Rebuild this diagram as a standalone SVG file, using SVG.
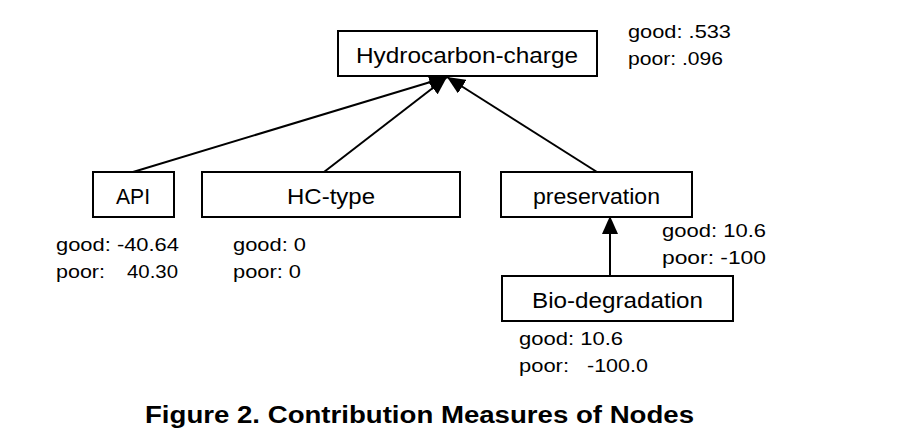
<svg xmlns="http://www.w3.org/2000/svg" width="913" height="444" viewBox="0 0 913 444">
<style>
.box{fill:#fff;stroke:#000;stroke-width:2}
.nt{font-family:"Liberation Sans",Arial,sans-serif;font-size:22px;fill:#000}
.lb{font-family:"Liberation Sans",Arial,sans-serif;font-size:18.5px;fill:#000}
.edge{stroke:#000;stroke-width:2;fill:none}
.title{font-family:"Liberation Sans",Arial,sans-serif;font-size:23px;font-weight:bold;fill:#000}
</style>
<defs>
<marker id="arr" markerUnits="userSpaceOnUse" markerWidth="18" markerHeight="16" refX="18" refY="8" orient="auto" viewBox="0 0 18 16">
<path d="M0,0 L18,8 L0,16 z" fill="#000"/>
</marker>
</defs>
<rect width="913" height="444" fill="#fff"/>
<g id="connectors">
<line class="edge" x1="133" y1="172" x2="447" y2="77" marker-end="url(#arr)"/>
<line class="edge" x1="324" y1="172" x2="447" y2="77" marker-end="url(#arr)"/>
<line class="edge" x1="597" y1="172" x2="447" y2="77" marker-end="url(#arr)"/>
<line class="edge" x1="610" y1="276" x2="610" y2="216" marker-end="url(#arr)"/>
</g>
<g id="hydrocarbon-charge">
<rect class="box" x="338" y="31" width="259" height="45"/>
<text class="nt" x="356" y="63" textLength="222" lengthAdjust="spacingAndGlyphs">Hydrocarbon-charge</text>
<text class="lb" x="628" y="38" textLength="103" lengthAdjust="spacingAndGlyphs">good: .533</text>
<text class="lb" x="628" y="65" textLength="95" lengthAdjust="spacingAndGlyphs">poor: .096</text>
</g>
<g id="api">
<rect class="box" x="93" y="172" width="81" height="45"/>
<text class="nt" x="116" y="204" textLength="34" lengthAdjust="spacingAndGlyphs">API</text>
<text class="lb" x="56" y="251" textLength="123" lengthAdjust="spacingAndGlyphs">good: -40.64</text>
<text class="lb" y="278"><tspan x="56" textLength="49" lengthAdjust="spacingAndGlyphs">poor:</tspan><tspan x="127" textLength="51" lengthAdjust="spacingAndGlyphs">40.30</tspan></text>
</g>
<g id="hc-type">
<rect class="box" x="202" y="172" width="258" height="45"/>
<text class="nt" x="287" y="204" textLength="88" lengthAdjust="spacingAndGlyphs">HC-type</text>
<text class="lb" x="233" y="251" textLength="73" lengthAdjust="spacingAndGlyphs">good: 0</text>
<text class="lb" x="233" y="278" textLength="68" lengthAdjust="spacingAndGlyphs">poor: 0</text>
</g>
<g id="preservation">
<rect class="box" x="501" y="172" width="191" height="45"/>
<text class="nt" x="533" y="204" textLength="127" lengthAdjust="spacingAndGlyphs">preservation</text>
<text class="lb" x="662" y="237" textLength="104" lengthAdjust="spacingAndGlyphs">good: 10.6</text>
<text class="lb" x="662" y="264" textLength="104" lengthAdjust="spacingAndGlyphs">poor: -100</text>
</g>
<g id="bio-degradation">
<rect class="box" x="502" y="276" width="231" height="45"/>
<text class="nt" x="532" y="308" textLength="171" lengthAdjust="spacingAndGlyphs">Bio-degradation</text>
<text class="lb" x="519" y="345" textLength="104" lengthAdjust="spacingAndGlyphs">good: 10.6</text>
<text class="lb" y="372"><tspan x="519" textLength="50" lengthAdjust="spacingAndGlyphs">poor:</tspan><tspan x="587" textLength="61" lengthAdjust="spacingAndGlyphs">-100.0</tspan></text>
</g>
<text class="title" x="145" y="423" textLength="549" lengthAdjust="spacingAndGlyphs">Figure 2. Contribution Measures of Nodes</text>
</svg>
